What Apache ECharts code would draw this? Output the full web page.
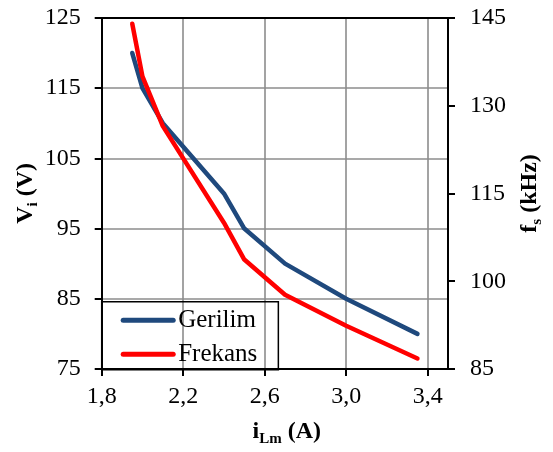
<!DOCTYPE html>
<html>
<head>
<meta charset="utf-8">
<script src="https://cdn.jsdelivr.net/npm/echarts@6/dist/echarts.min.js"></script>
<style>
html,body{margin:0;padding:0;background:#fff;}
#chart{width:553px;height:452px;}
</style>
</head>
<body>
<div id="chart"></div>
<script>
// Data
const currentA = [1.95, 2.0, 2.1, 2.4, 2.5, 2.7, 3.0, 3.35];     // i_Lm (A)
const voltageV = [120, 115, 110, 100, 95, 90, 85, 80];           // V_i (V)  -> Gerilim
const freqKHz  = [144, 135, 126.5, 110, 103.7, 97.7, 92.4, 86.8]; // f_s (kHz) -> Frekans
const xTicks = [1.8, 2.2, 2.6, 3.0, 3.4];
const yLeftTicks = [75, 85, 95, 105, 115, 125];
const yRightTicks = [85, 100, 115, 130, 145];
const seriesNames = ['Gerilim', 'Frekans'];

const FONT = '"Liberation Serif", "Times New Roman", serif';
const pair = (xs, ys) => xs.map((x, i) => [x, ys[i]]);
const comma = v => Number(v).toFixed(1).replace('.', ',');

const chart = echarts.init(document.getElementById('chart'), null, {renderer: 'canvas'});
const gridLine = {show: true, lineStyle: {color: '#8c8c8c', width: 1.6}};
const nameRich = {
  b: {fontFamily: FONT, fontWeight: 'bold', fontSize: 24, color: '#000', lineHeight: 30, verticalAlign: 'middle'},
  s: {fontFamily: FONT, fontWeight: 'bold', fontSize: 15, color: '#000', lineHeight: 30, verticalAlign: 'bottom'}
};

chart.setOption({
  animation: false,
  backgroundColor: '#fff',
  grid: {left: 101.7, right: 99, top: 17.9, bottom: 80.5, containLabel: false},
  legend: {
    data: seriesNames,
    orient: 'vertical',
    left: 101.7, top: 301.7,
    padding: [6, 21, 3, 19],
    itemWidth: 50, itemHeight: 20, itemGap: 9,
    borderColor: '#000', borderWidth: 1.5,
    itemStyle: {opacity: 0},
    lineStyle: {width: 5, cap: 'round'},
    textStyle: {fontFamily: FONT, fontSize: 25, color: '#000'}
  },
  xAxis: [{
    type: 'value', min: 1.8, max: 3.5, position: 'bottom',
    name: '{b|i}{s|Lm}{b| (A)}', nameLocation: 'middle', nameGap: 48, nameMoveOverlap: false,
    nameTextStyle: {rich: nameRich, padding: [0, 0, 0, 24]},
    axisLine: {show: true, onZero: false, lineStyle: {color: '#000', width: 2}},
    axisTick: {show: true, inside: false, length: 7, customValues: xTicks, lineStyle: {color: '#000', width: 2}},
    axisLabel: {customValues: xTicks, margin: 16, fontFamily: FONT, fontSize: 24, color: '#000', formatter: comma},
    splitLine: gridLine
  }, {
    type: 'value', min: 1.8, max: 3.5, position: 'top',
    axisLine: {show: true, onZero: false, lineStyle: {color: '#000', width: 2}},
    axisTick: {show: false}, axisLabel: {show: false}, splitLine: {show: false}
  }],
  yAxis: [{
    type: 'value', min: 75, max: 125, position: 'left',
    name: '{b|V}{s|i}{b| (V)}', nameLocation: 'middle', nameRotate: 90, nameGap: 61, nameMoveOverlap: false,
    nameTextStyle: {rich: nameRich},
    axisLine: {show: true, onZero: false, lineStyle: {color: '#000', width: 2}},
    axisTick: {show: true, length: 7, customValues: yLeftTicks, lineStyle: {color: '#000', width: 2}},
    axisLabel: {customValues: yLeftTicks, margin: 21, fontFamily: FONT, fontSize: 24, color: '#000'},
    splitLine: gridLine
  }, {
    type: 'value', min: 85, max: 145, position: 'right',
    name: '{b|f}{s|s}{b| (kHz)}', nameLocation: 'middle', nameRotate: 90, nameGap: 67, nameMoveOverlap: false,
    nameTextStyle: {rich: nameRich},
    axisLine: {show: true, onZero: false, lineStyle: {color: '#000', width: 2}},
    axisTick: {show: true, length: 7, customValues: yRightTicks, lineStyle: {color: '#000', width: 2}},
    axisLabel: {customValues: yRightTicks, margin: 22, fontFamily: FONT, fontSize: 24, color: '#000'},
    splitLine: {show: false}
  }],
  series: [{
    name: seriesNames[0], type: 'line', xAxisIndex: 0, yAxisIndex: 0,
    data: pair(currentA, voltageV), symbol: 'none', smooth: false,
    lineStyle: {color: '#1F497D', width: 4.5, cap: 'round', join: 'round'},
    itemStyle: {color: '#1F497D'}
  }, {
    name: seriesNames[1], type: 'line', xAxisIndex: 0, yAxisIndex: 1,
    data: pair(currentA, freqKHz), symbol: 'none', smooth: false,
    lineStyle: {color: '#FF0000', width: 4.5, cap: 'round', join: 'round'},
    itemStyle: {color: '#FF0000'}
  }]
});
</script>
</body>
</html>
